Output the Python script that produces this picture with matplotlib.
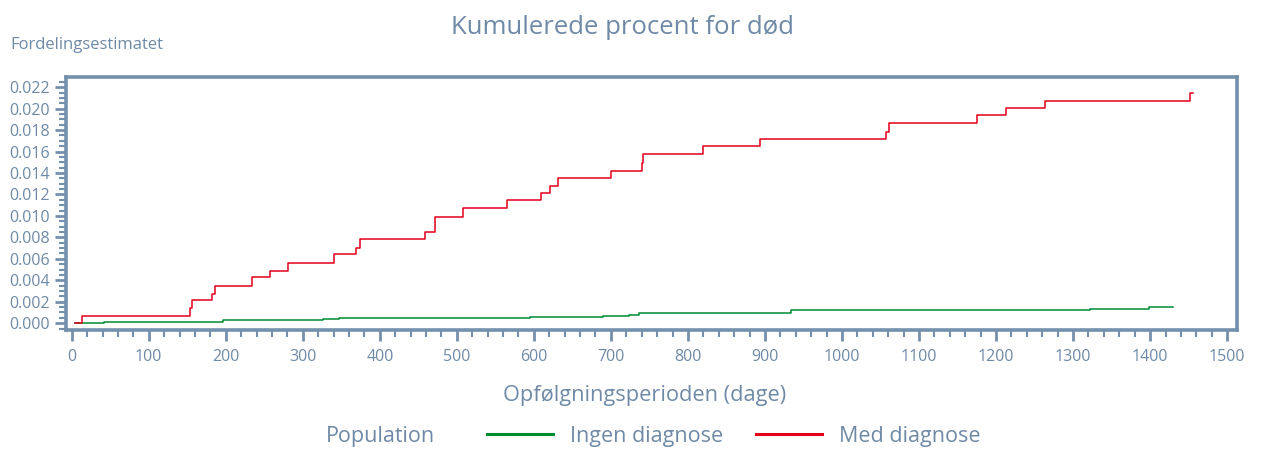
import matplotlib
matplotlib.use("Agg")
import matplotlib.pyplot as plt
from matplotlib.lines import Line2D
from matplotlib.ticker import MultipleLocator

plt.rcParams['font.family'] = ['Open Sans', 'DejaVu Sans']

TXT = "#6f8aa6"
SPINE = "#7590ad"
RED = "#e2001a"
GREEN = "#008c32"

# step data (days, cumulative share)
med_days = [4, 13, 153, 156, 182, 186, 234, 258, 281, 340, 369, 374, 459, 471,
            508, 565, 609, 621, 631, 700, 740, 742, 820, 894, 1057, 1061, 1175,
            1213, 1263, 1452, 1456]
med_vals = [0.0, 0.00062, 0.0014, 0.00217, 0.00273, 0.0035, 0.00429, 0.0049,
            0.00565, 0.00643, 0.00705, 0.00783, 0.00854, 0.00994, 0.01072,
            0.01147, 0.01212, 0.01283, 0.01357, 0.01423, 0.01497, 0.01575,
            0.0165, 0.01715, 0.01786, 0.0187, 0.01939, 0.02004, 0.02075,
            0.0215, 0.0215]

ingen_days = [4, 42, 196, 326, 347, 595, 690, 723, 736, 934, 1322, 1398, 1430]
ingen_vals = [0.0, 0.00015, 0.0003, 0.00043, 0.00052, 0.00059, 0.00068, 0.0008,
              0.00096, 0.00121, 0.00133, 0.00149, 0.00149]

x_ticks = list(range(0, 1600, 100))
y_ticks = [i * 0.002 for i in range(12)]

fig = plt.figure(figsize=(12.62, 4.5), dpi=100)
ax = fig.add_axes([0.0523, 0.267, 0.928, 0.562])

ax.step(ingen_days, ingen_vals, where='post', color=GREEN, lw=1.1)
ax.step(med_days, med_vals, where='post', color=RED, lw=1.1)

ax.set_xlim(-7.4, 1513)
ax.set_ylim(-0.000625, 0.02296)
ax.set_xticks(x_ticks)
ax.set_yticks(y_ticks)
ax.set_yticklabels([f"{v:.3f}" for v in y_ticks])
ax.xaxis.set_minor_locator(MultipleLocator(20))
ax.yaxis.set_minor_locator(MultipleLocator(0.0005))

for s in ax.spines.values():
    s.set_color(SPINE)
    s.set_linewidth(2.6)
ax.tick_params(which='major', length=8, width=2, color=SPINE, labelcolor=TXT, labelsize=11.5)
ax.tick_params(axis='x', which='major', pad=6)
ax.tick_params(which='minor', length=5, width=1.5, color=SPINE)

fig.text(0.493, 0.94, "Kumulerede procent for død", ha='center', va='center', fontsize=18.5, color=TXT)
fig.text(0.008, 0.9, "Fordelingsestimatet", ha='left', va='center', fontsize=12, color=TXT)
fig.text(0.511, 0.122, "Opfølgningsperioden (dage)", ha='center', va='center', fontsize=15.7, color=TXT)

fig.text(0.258, 0.03, "Population", ha='left', va='center', fontsize=15.5, color=TXT)
handles = [Line2D([], [], color=GREEN, lw=2.2), Line2D([], [], color=RED, lw=2.2)]
fig.legend(handles, ["Ingen diagnose", "Med diagnose"], loc='center left',
           bbox_to_anchor=(0.386, 0.03), ncol=2, frameon=False, fontsize=15.5,
           labelcolor=TXT, handlelength=3.06, handletextpad=0.8, columnspacing=1.5,
           borderaxespad=0, borderpad=0)

fig.savefig("out.png", dpi=100)
